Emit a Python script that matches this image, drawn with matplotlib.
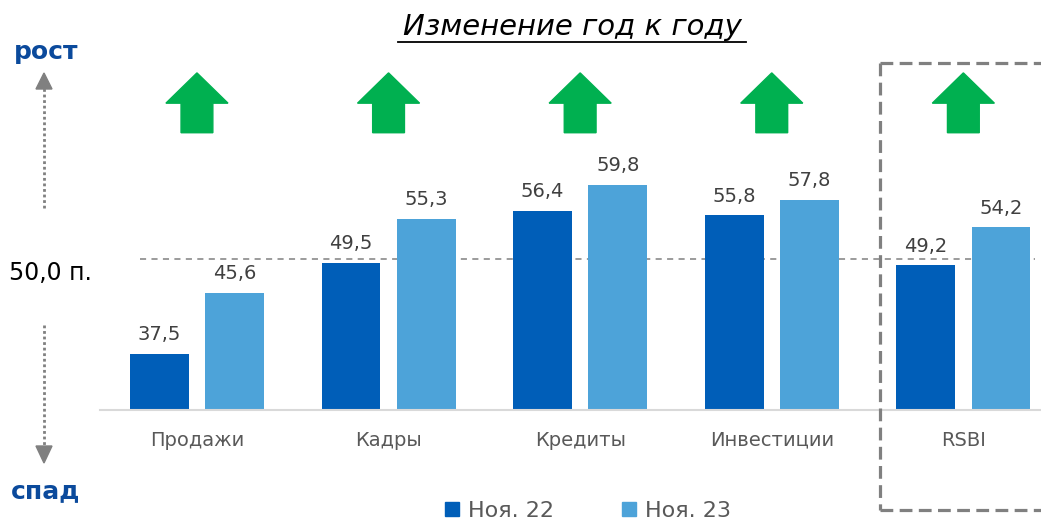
import matplotlib
matplotlib.use("Agg")
import matplotlib.pyplot as plt
from matplotlib.patches import Polygon, Patch
from matplotlib.lines import Line2D

categories = ["Продажи", "Кадры", "Кредиты", "Инвестиции", "RSBI"]
nov22 = [37.5, 49.5, 56.4, 55.8, 49.2]
nov23 = [45.6, 55.3, 59.8, 57.8, 54.2]
series_labels = ["Ноя. 22", "Ноя. 23"]
threshold = 50.0

C_DARK = "#005EB8"
C_LIGHT = "#4DA3D9"
C_GREEN = "#00B050"
C_BLUE_TXT = "#0B4A9C"
C_TXT = "#595959"

W, H = 1041, 522
fig = plt.figure(figsize=(W / 100, H / 100), dpi=100)

def fx(px):
    return px / W

def fy(py):
    return 1 - py / H

ax = fig.add_axes([fx(100), fy(410), fx(1040) - fx(100), fy(60) - fy(410)])
ymin, ymax = 30.1, 76.3
ax.set_ylim(ymin, ymax)
ax.set_xlim(-0.506, 4.40)

bw = 0.307
off = 0.196
x = list(range(len(categories)))
b1 = ax.bar([i - off for i in x], nov22, bw, bottom=0, color=C_DARK, zorder=2)
b2 = ax.bar([i + off for i in x], nov23, bw, bottom=0, color=C_LIGHT, zorder=2)

for bars, vals in ((b1, nov22), (b2, nov23)):
    for r, v in zip(bars, vals):
        ax.annotate(f"{v:.1f}".replace(".", ","), (r.get_x() + r.get_width() / 2, v),
                    xytext=(0, 7), textcoords="offset points", ha="center", va="bottom",
                    fontsize=14, color="#404040")

ax.plot([-0.297, 4.374], [threshold, threshold], ls=(0, (4, 3.5)), color="#808080", lw=1.1, zorder=1)

# green up arrows
for i in x:
    tip, hb, bot = 74.6, 70.6, 66.7
    hw, sw = 0.162, 0.083
    pts = [(i, tip), (i + hw, hb), (i + sw, hb), (i + sw, bot), (i - sw, bot), (i - sw, hb), (i - hw, hb)]
    ax.add_patch(Polygon(pts, closed=True, color=C_GREEN, zorder=3, clip_on=False))

ax.set_xticks(x)
ax.set_xticklabels(categories, fontsize=14, color=C_TXT)
ax.tick_params(axis="x", length=0, pad=15)
ax.set_yticks([])
for s in ("top", "right", "left"):
    ax.spines[s].set_visible(False)
ax.spines["bottom"].set_color("#D9D9D9")
ax.spines["bottom"].set_linewidth(1.5)

# title with underline
fig.text(fx(572), fy(27), "Изменение год к году", ha="center", va="center",
         fontsize=21, style="italic", color="#000000")
fig.add_artist(Line2D([fx(398), fx(746)], [fy(42), fy(42)], color="#000000", lw=1.3))

# left annotations
fig.text(fx(46), fy(52), "рост", ha="center", va="center", fontsize=18,
         fontweight="bold", color=C_BLUE_TXT)
fig.text(fx(46), fy(491), "спад", ha="center", va="center", fontsize=18,
         fontweight="bold", color=C_BLUE_TXT)
fig.text(fx(9), fy(273), "50,0 п.", ha="left", va="center", fontsize=17, color="#000000")

ax_x = fx(44)
fig.add_artist(Line2D([ax_x, ax_x], [fy(208), fy(88)], color="#808080", lw=2, ls=(0, (1, 1))))
fig.add_artist(Polygon([(fx(44), fy(73)), (fx(52), fy(89)), (fx(36), fy(89))], closed=True,
                       color="#808080", transform=fig.transFigure))
fig.add_artist(Line2D([ax_x, ax_x], [fy(325), fy(447)], color="#808080", lw=2, ls=(0, (1, 1))))
fig.add_artist(Polygon([(fx(44), fy(463)), (fx(52), fy(446)), (fx(36), fy(446))], closed=True,
                       color="#808080", transform=fig.transFigure))

# dashed box around RSBI
box_kw = dict(color="#808080", lw=2.3, ls=(0, (4, 2)))
fig.add_artist(Line2D([fx(880), fx(880)], [fy(63), fy(510)], **box_kw))
fig.add_artist(Line2D([fx(880), fx(1045)], [fy(63), fy(63)], **box_kw))
fig.add_artist(Line2D([fx(880), fx(1045)], [fy(510), fy(510)], **box_kw))

handles = [Patch(color=C_DARK), Patch(color=C_LIGHT)]
fig.legend(handles, series_labels, loc="center", bbox_to_anchor=(fx(588), fy(511)), ncol=2,
           frameon=False, fontsize=16, handlelength=0.6, handleheight=0.6, handletextpad=0.4,
           columnspacing=3.1, labelcolor=C_TXT, borderpad=0)

fig.savefig("out.png", dpi=100)
